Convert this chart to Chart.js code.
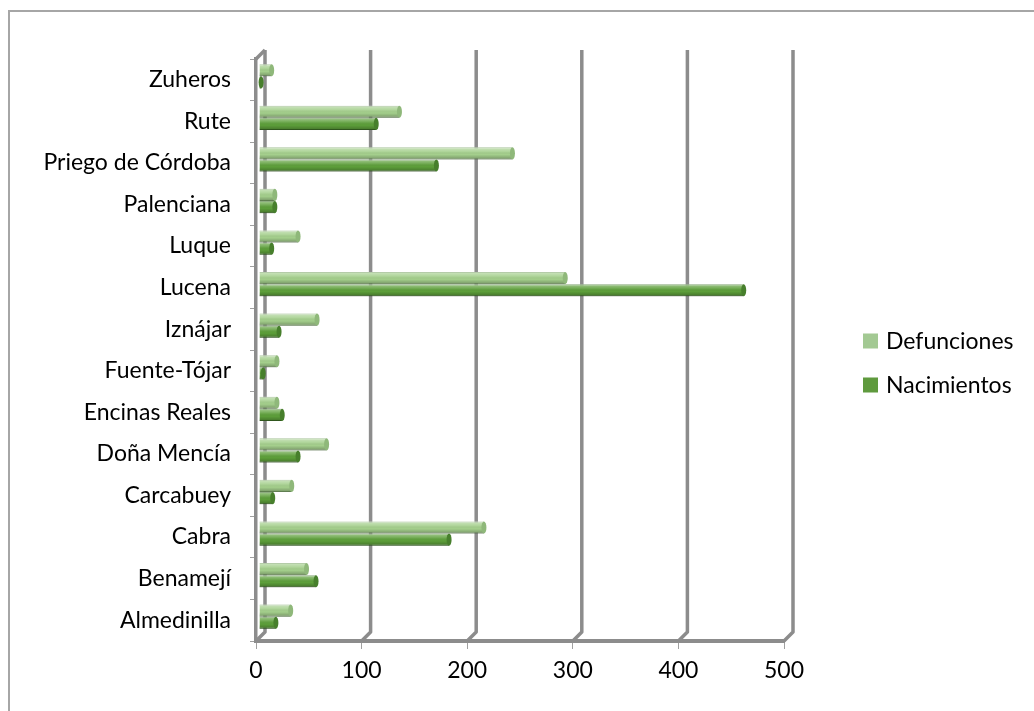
<!DOCTYPE html>
<html>
<head>
<meta charset="utf-8">
<script src="https://cdn.jsdelivr.net/npm/chart.js@4/dist/chart.umd.min.js"></script>
<style>
  html, body { margin: 0; padding: 0; background: #fff; }
  #wrap { width: 1034px; height: 711px; }
</style>
</head>
<body>
<div id="wrap"><canvas id="myChart" width="1034" height="711"></canvas></div>
<script>
var municipios = ['Almedinilla', 'Benamejí', 'Cabra', 'Carcabuey', 'Doña Mencía',
  'Encinas Reales', 'Fuente-Tójar', 'Iznájar', 'Lucena', 'Luque', 'Palenciana',
  'Priego de Córdoba', 'Rute', 'Zuheros'];
var nacimientos = [16, 54, 180, 13, 37, 22, 4, 19, 459, 12, 15, 168, 111, 2];
var defunciones = [30, 45, 213, 31, 64, 17, 17, 55, 290, 37, 15, 240, 133, 12];
var xTicks = [0, 100, 200, 300, 400, 500];

var GRIS = '#8c8c8c';
var FONT = 'Lato, "Open Sans", sans-serif';

// marco exterior (solo arriba e izquierda quedan dentro de la imagen)
var marco = {
  id: 'marco',
  beforeDraw: function (chart) {
    var c = chart.ctx;
    c.save();
    c.strokeStyle = '#a6a6a6';
    c.lineWidth = 2;
    c.beginPath();
    c.moveTo(9, 711);
    c.lineTo(9, 11);
    c.lineTo(1034, 11);
    c.stroke();
    c.restore();
  }
};

// paredes y rejilla con algo de profundidad, como en el grafico 3D de Excel
var fondo3d = {
  id: 'fondo3d',
  beforeDatasetsDraw: function (chart) {
    var c = chart.ctx, a = chart.chartArea, sx = chart.scales.x;
    var dx = 9, dy = 9;
    c.save();
    c.strokeStyle = GRIS;
    c.lineWidth = 3.5;
    c.lineJoin = 'round';
    xTicks.forEach(function (v, i) {
      var x = sx.getPixelForValue(v);
      c.beginPath();
      c.moveTo(x + dx, a.top - dy);
      c.lineTo(x + dx, a.bottom - dy);
      c.lineTo(x, a.bottom);
      c.stroke();
      if (i === 0) {
        c.beginPath();
        c.moveTo(x, a.top);
        c.lineTo(x + dx, a.top - dy);
        c.stroke();
      }
    });
    c.restore();
    // las barras van un poco hacia atras
    c.save();
    c.translate(3, -3.5);
  },
  afterDatasetsDraw: function (chart) {
    var c = chart.ctx;
    chart.data.datasets.forEach(function (ds, di) {
      var meta = chart.getDatasetMeta(di);
      meta.data.forEach(function (el) {
        var p = el.getProps(['x', 'y', 'base', 'height'], true);
        var top = p.y - p.height / 2, h = p.height;
        var g = c.createLinearGradient(0, top, 0, top + h);
        g.addColorStop(0, 'rgba(255,255,255,0.45)');
        g.addColorStop(0.35, 'rgba(255,255,255,0.12)');
        g.addColorStop(0.6, 'rgba(0,0,0,0)');
        g.addColorStop(1, 'rgba(0,0,0,0.28)');
        c.fillStyle = g;
        c.fillRect(p.base, top, p.x - p.base, h);
        // tapa del extremo
        c.beginPath();
        c.ellipse(p.x, p.y, 2.5, h / 2, 0, 0, Math.PI * 2);
        c.fillStyle = ds.capColor;
        c.fill();
      });
    });
    c.restore();
  }
};

// leyenda a la derecha, Defunciones arriba
var leyenda = {
  id: 'leyenda',
  afterDraw: function (chart) {
    var c = chart.ctx, a = chart.chartArea;
    var items = chart.data.datasets;
    var x = a.right + 79, y0 = 341;
    c.save();
    c.font = '23px ' + FONT;
    c.textBaseline = 'middle';
    items.forEach(function (ds, i) {
      var y = y0 + i * 44;
      c.fillStyle = ds.legendColor;
      c.fillRect(x, y - 7.5, 15, 15);
      c.fillStyle = '#000';
      c.fillText(ds.label, x + 23, y + 1);
    });
    c.restore();
  }
};

var ctx = document.getElementById('myChart').getContext('2d');
var myChart = new Chart(ctx, {
  type: 'bar',
  data: {
    labels: municipios,
    datasets: [{
      label: 'Defunciones',
      data: defunciones,
      backgroundColor: '#a4cf8c',
      borderColor: '#80a86c',
      borderWidth: 1,
      legendColor: '#a3c993',
      capColor: '#8fb87a'
    }, {
      label: 'Nacimientos',
      data: nacimientos,
      backgroundColor: '#5d9f3a',
      borderColor: '#3f7327',
      borderWidth: 1,
      legendColor: '#5f9a3e',
      capColor: '#477f2c'
    }]
  },
  options: {
    indexAxis: 'y',
    responsive: false,
    animation: false,
    layout: { padding: { left: 10, right: 250, top: 59, bottom: 0 } },
    datasets: { bar: { categoryPercentage: 0.585, barPercentage: 1 } },
    plugins: {
      legend: { display: false },
      tooltip: { enabled: false }
    },
    scales: {
      x: {
        min: 0,
        max: 500,
        afterBuildTicks: function (s) { s.ticks = xTicks.map(function (v) { return { value: v }; }); },
        afterFit: function (s) { s.height = 70; },
        grid: { drawOnChartArea: false, tickLength: 8, tickWidth: 1, tickColor: '#a0a0a0' },
        border: { color: GRIS, width: 4 },
        ticks: { color: '#000', font: { family: FONT, size: 23 }, padding: 8, maxRotation: 0 }
      },
      y: {
        reverse: true,
        afterFit: function (s) { s.width = 246; },
        grid: { drawOnChartArea: false, offset: true, tickLength: 6, tickWidth: 1, tickColor: '#a0a0a0' },
        border: { color: GRIS, width: 3.5 },
        ticks: { color: '#000', font: { family: FONT, size: 23 }, padding: 19 }
      }
    }
  },
  plugins: [marco, fondo3d, leyenda]
});
</script>
</body>
</html>
